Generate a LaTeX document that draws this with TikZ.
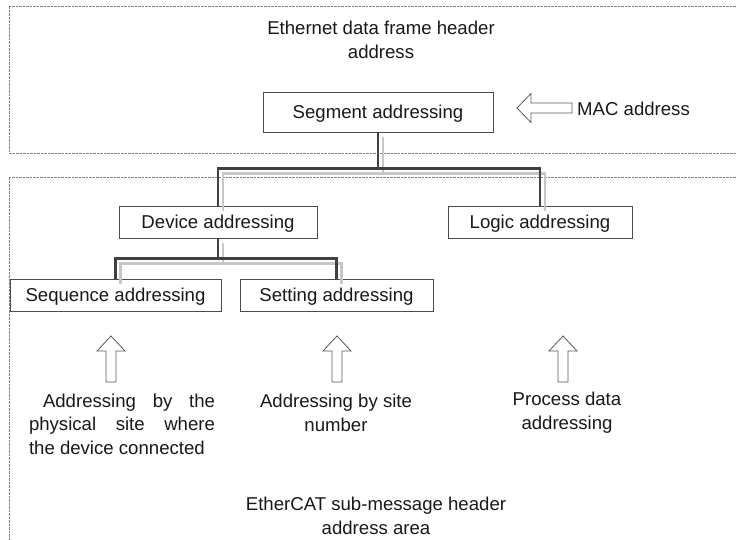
\documentclass[tikz,border=0pt]{standalone}
\usepackage{fontspec}
\setmainfont{Liberation Sans}
\usetikzlibrary{calc}
\begin{document}
\begin{tikzpicture}[x=1pt,y=-1pt,
  every node/.style={font=\fontsize{18.6}{24}\selectfont, text=black!90, inner sep=0pt},
  box/.style={draw=black!70, line width=0.9pt, fill=white, minimum height=32pt, text height=13.6pt, text depth=0pt},
  zone/.style={draw=black!50, line width=0.6pt, dash pattern=on 0.7pt off 0.7pt},
  conn/.style={draw=black!75, line width=2.2pt},
  shade/.style={draw=black!22, line width=2.4pt},
  blockarrow/.style={draw=black!65, line width=0.8pt, fill=white, line join=miter},
  uparr/.pic={\path[blockarrow] (-5,0) -- (-5,-31) -- (-14,-31) -- (0,-46) -- (14,-31) -- (5,-31) -- (5,0) -- cycle;}
]
\useasboundingbox (0,0) rectangle (736,540);
\fill[white] (0,0) rectangle (736,540);

% zones
\draw[zone] (736,6) -- (9,6) -- (9,153) -- (736,153);
\draw[zone] (736,177) -- (9,177) -- (9,540);

% zone titles
\node[align=center] (toptitle) at (381,40) {Ethernet data frame header\\address};
\node[align=center] (bottitle) at (376,516) {EtherCAT sub-message header\\address area};

% boxes
\node[box, minimum width=230pt, minimum height=40pt] (seg) at (378,112) {Segment addressing};
\node[box, minimum width=198pt] (dev) at (218,222) {Device addressing};
\node[box, minimum width=184pt] (logic) at (540,222) {Logic addressing};
\node[box, minimum width=211pt] (seq) at (115.5,295) {Sequence addressing};
\node[box, minimum width=193pt] (set) at (336.5,295) {Setting addressing};

% connector shadows
\draw[shade] ([xshift=5pt,yshift=-5pt]seg.south) -- ++(0,36) -| ([xshift=5pt,yshift=-5pt]dev.north);
\draw[shade] ([xshift=5pt,yshift=-5pt]seg.south) -- ++(0,36) -| ([xshift=5pt,yshift=-5pt]logic.north);
\draw[shade] ([xshift=5pt,yshift=-5pt]dev.south) -- ++(0,20) -| ([xshift=5pt,yshift=-5pt]seq.north);
\draw[shade] ([xshift=5pt,yshift=-5pt]dev.south) -- ++(0,20) -| ([xshift=5pt,yshift=-5pt]set.north);

% connectors
\draw[conn] (seg.south) -- ++(0,36) -| (dev.north);
\draw[conn] (seg.south) -- ++(0,36) -| (logic.north);
\draw[conn] (dev.south) -- ++(0,20) -| (seq.north);
\draw[conn] (dev.south) -- ++(0,20) -| (set.north);

% MAC address arrow
\path[blockarrow] (572,103) -- (531,103) -- (531,93.5) -- (517,108) -- (531,122.5) -- (531,113) -- (572,113) -- cycle;
\node[anchor=west] (mac) at (577,109) {MAC address};

% up arrows
\pic at (111,382) {uparr};
\pic at (337,382) {uparr};
\pic at (563,382) {uparr};

% descriptions
\node (d1) at (122,424) {\parbox{186pt}{\fontsize{18.6}{23.6}\selectfont\hspace*{14pt}Addressing\hfill by\hfill the\\ physical\hfill site\hfill where\\ the device connected}};
\node[align=center] (d2) at (336,412.5) {Addressing by site\\number};
\node[align=center] (d3) at (567,413) {Process data\\addressing};
\end{tikzpicture}
\end{document}
